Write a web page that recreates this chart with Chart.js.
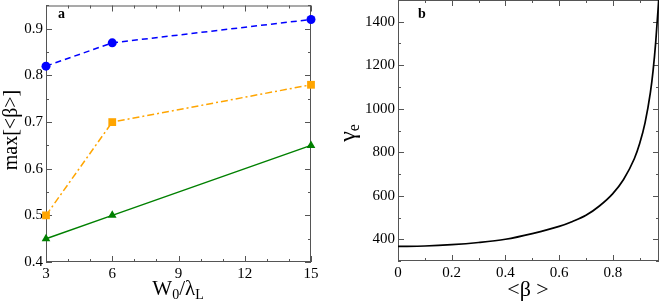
<!DOCTYPE html>
<html>
<head>
<meta charset="utf-8">
<script src="https://cdn.jsdelivr.net/npm/chart.js@4"></script>
<style>
  html, body { margin: 0; padding: 0; background: #fff; }
  #wrap { position: relative; width: 660px; height: 305px; }
  .panel { position: absolute; top: 0; width: 330px; height: 305px; }
</style>
</head>
<body>
<div id="wrap">
  <div class="panel" style="left:0"><canvas id="chartA" width="330" height="305"></canvas></div>
  <div class="panel" style="left:330px"><canvas id="chartB" width="330" height="305"></canvas></div>
</div>
<script>
// panel a data
const waistSizes = [3, 6, 15];
const betaBlue = [0.82, 0.87, 0.92];
const betaOrange = [0.5, 0.7, 0.78];
const betaGreen = [0.45, 0.5, 0.65];
const xTicksA = [3, 6, 9, 12, 15];
const yTicksA = [0.4, 0.5, 0.6, 0.7, 0.8, 0.9];

// panel b data
const betaMean = [0, 0.1, 0.2, 0.3, 0.4, 0.5, 0.6, 0.65, 0.7, 0.75, 0.8, 0.84, 0.88, 0.9, 0.92, 0.94, 0.95, 0.96, 0.972];
const gammaE = [367, 369, 375, 385, 400, 426, 459, 482, 510, 553, 610, 675, 770, 840, 935, 1075, 1175, 1310, 1520];
const xTicksB = [0, 0.2, 0.4, 0.6, 0.8];
const yTicksB = [400, 600, 800, 1000, 1200, 1400];

const SERIF = '"Liberation Serif", "DejaVu Serif", serif';
const FRAME = '#555';

// draws the box with inward major/minor ticks on all four sides
const framePlugin = {
  id: 'frame',
  beforeDatasetsDraw(chart, args, opts) {
    const { ctx, chartArea: a, scales: { x, y } } = chart;
    ctx.save();
    ctx.strokeStyle = FRAME;
    ctx.lineWidth = 1;
    ctx.strokeRect(a.left + 0.5, a.top + 0.5, a.right - a.left - 1, a.bottom - a.top - 1);
    const tick = (px, len, horiz) => {
      ctx.beginPath();
      px = Math.round(px) + 0.5;
      if (horiz) {
        ctx.moveTo(px, a.bottom); ctx.lineTo(px, a.bottom - len);
        ctx.moveTo(px, a.top); ctx.lineTo(px, a.top + len);
      } else {
        ctx.moveTo(a.left, px); ctx.lineTo(a.left + len, px);
        ctx.moveTo(a.right, px); ctx.lineTo(a.right - len, px);
      }
      ctx.stroke();
    };
    for (let v = opts.xMin; v <= x.max + 1e-9; v += opts.xMinor) {
      const major = Math.abs(Math.round(v / opts.xMajor) * opts.xMajor - v) < 1e-6;
      tick(x.getPixelForValue(v), major ? 6 : 3, true);
    }
    for (let v = opts.yMin; v <= y.max + 1e-9; v += opts.yMinor) {
      const major = Math.abs(Math.round(v / opts.yMajor) * opts.yMajor - v) < 1e-6;
      tick(y.getPixelForValue(v), major ? 6 : 3, false);
    }
    ctx.restore();
  },
  afterDraw(chart, args, opts) {
    const { ctx } = chart;
    ctx.save();
    ctx.fillStyle = '#000';
    // panel letter
    ctx.font = 'bold 14px ' + SERIF;
    ctx.textBaseline = 'alphabetic';
    ctx.textAlign = 'left';
    ctx.fillText(opts.letter, opts.letterX, 18);
    // y title
    ctx.save();
    ctx.translate(opts.yTitleX, opts.yTitleY);
    ctx.rotate(-Math.PI / 2);
    drawRich(ctx, opts.yTitle, 0, 0);
    ctx.restore();
    // x title
    drawRich(ctx, opts.xTitle, opts.xTitleX, opts.xTitleY);
    ctx.restore();
  }
};

// text pieces: [text, size, baselineShift]; centred on x, baseline middle
function drawRich(ctx, parts, cx, cy) {
  ctx.textAlign = 'left';
  ctx.textBaseline = 'middle';
  let w = 0;
  parts.forEach(p => { ctx.font = p[1] + 'px ' + SERIF; w += ctx.measureText(p[0]).width; });
  let x = cx - w / 2;
  parts.forEach(p => {
    ctx.font = p[1] + 'px ' + SERIF;
    ctx.fillText(p[0], x, cy + (p[2] || 0));
    x += ctx.measureText(p[0]).width;
  });
}

function fixedScale(ticks, fit) {
  return {
    afterBuildTicks(scale) { scale.ticks = ticks.map(v => ({ value: v })); },
    afterFit(scale) {
      fit(scale);
      scale.paddingTop = 0; scale.paddingBottom = 0;
      scale.paddingLeft = 0; scale.paddingRight = 0;
    }
  };
}

function axis(min, max, ticks, fit, fmt) {
  return Object.assign({
    type: 'linear', min: min, max: max,
    grid: { display: false, drawTicks: false },
    border: { display: false },
    ticks: {
      color: '#000', padding: 3, autoSkip: false, maxRotation: 0,
      font: { family: SERIF, size: 15 },
      callback: fmt
    }
  }, fixedScale(ticks, fit));
}

function series(data, color, dash, style, radius) {
  return {
    data: waistSizes.map((w, i) => ({ x: w, y: data[i] })),
    showLine: true, borderColor: color, backgroundColor: color,
    borderWidth: 1.5, borderDash: dash,
    pointStyle: style, pointRadius: radius, pointHoverRadius: radius,
    pointBorderWidth: 0, clip: false
  };
}

new Chart(document.getElementById('chartA'), {
  type: 'scatter',
  data: {
    datasets: [
      series(betaBlue, '#0000ff', [6, 4], 'circle', 4.5),
      series(betaOrange, '#ffa500', [7, 3, 2, 3], 'rect', 5.5),
      series(betaGreen, '#008000', [], 'triangle', 5)
    ]
  },
  options: {
    responsive: false, animation: false,
    layout: { padding: { left: 0, right: 19, top: 0, bottom: 0 } },
    plugins: {
      legend: { display: false }, tooltip: { enabled: false },
      frame: {
        xMin: 3, xMinor: 1, xMajor: 3, yMin: 0.4, yMinor: 0.05, yMajor: 0.1,
        letter: 'a', letterX: 58,
        yTitle: [['max[<β>]', 20]], yTitleX: 12, yTitleY: 130,
        xTitle: [['W', 21], ['0', 14, 6], ['/λ', 21], ['L', 14, 6]], xTitleX: 178, xTitleY: 289
      }
    },
    scales: {
      x: axis(3, 15, xTicksA, s => { s.height = 43; }, v => String(v)),
      y: axis(0.4, 0.95, yTicksA, s => { s.width = 46; }, v => v.toFixed(1))
    }
  },
  plugins: [framePlugin]
});

new Chart(document.getElementById('chartB'), {
  type: 'scatter',
  data: {
    datasets: [{
      data: betaMean.map((b, i) => ({ x: b, y: gammaE[i] })),
      showLine: true, borderColor: '#000', borderWidth: 1.7,
      pointRadius: 0, cubicInterpolationMode: 'monotone'
    }]
  },
  options: {
    responsive: false, animation: false,
    layout: { padding: { left: 0, right: 1, top: 0, bottom: 0 } },
    plugins: {
      legend: { display: false }, tooltip: { enabled: false },
      frame: {
        xMin: 0, xMinor: 0.1, xMajor: 0.2, yMin: 300, yMinor: 100, yMajor: 200,
        letter: 'b', letterX: 88,
        yTitle: [['γ', 24], ['e', 16, 6]], yTitleX: 19, yTitleY: 133,
        xTitle: [['<β >', 22]], xTitleX: 198, xTitleY: 290
      }
    },
    scales: {
      x: axis(0, 0.972, xTicksB, s => { s.height = 44; }, v => v === 0 ? '0' : v.toFixed(1)),
      y: axis(300, 1500, yTicksB, s => { s.width = 68; }, v => String(v))
    }
  },
  plugins: [framePlugin]
});
</script>
</body>
</html>
